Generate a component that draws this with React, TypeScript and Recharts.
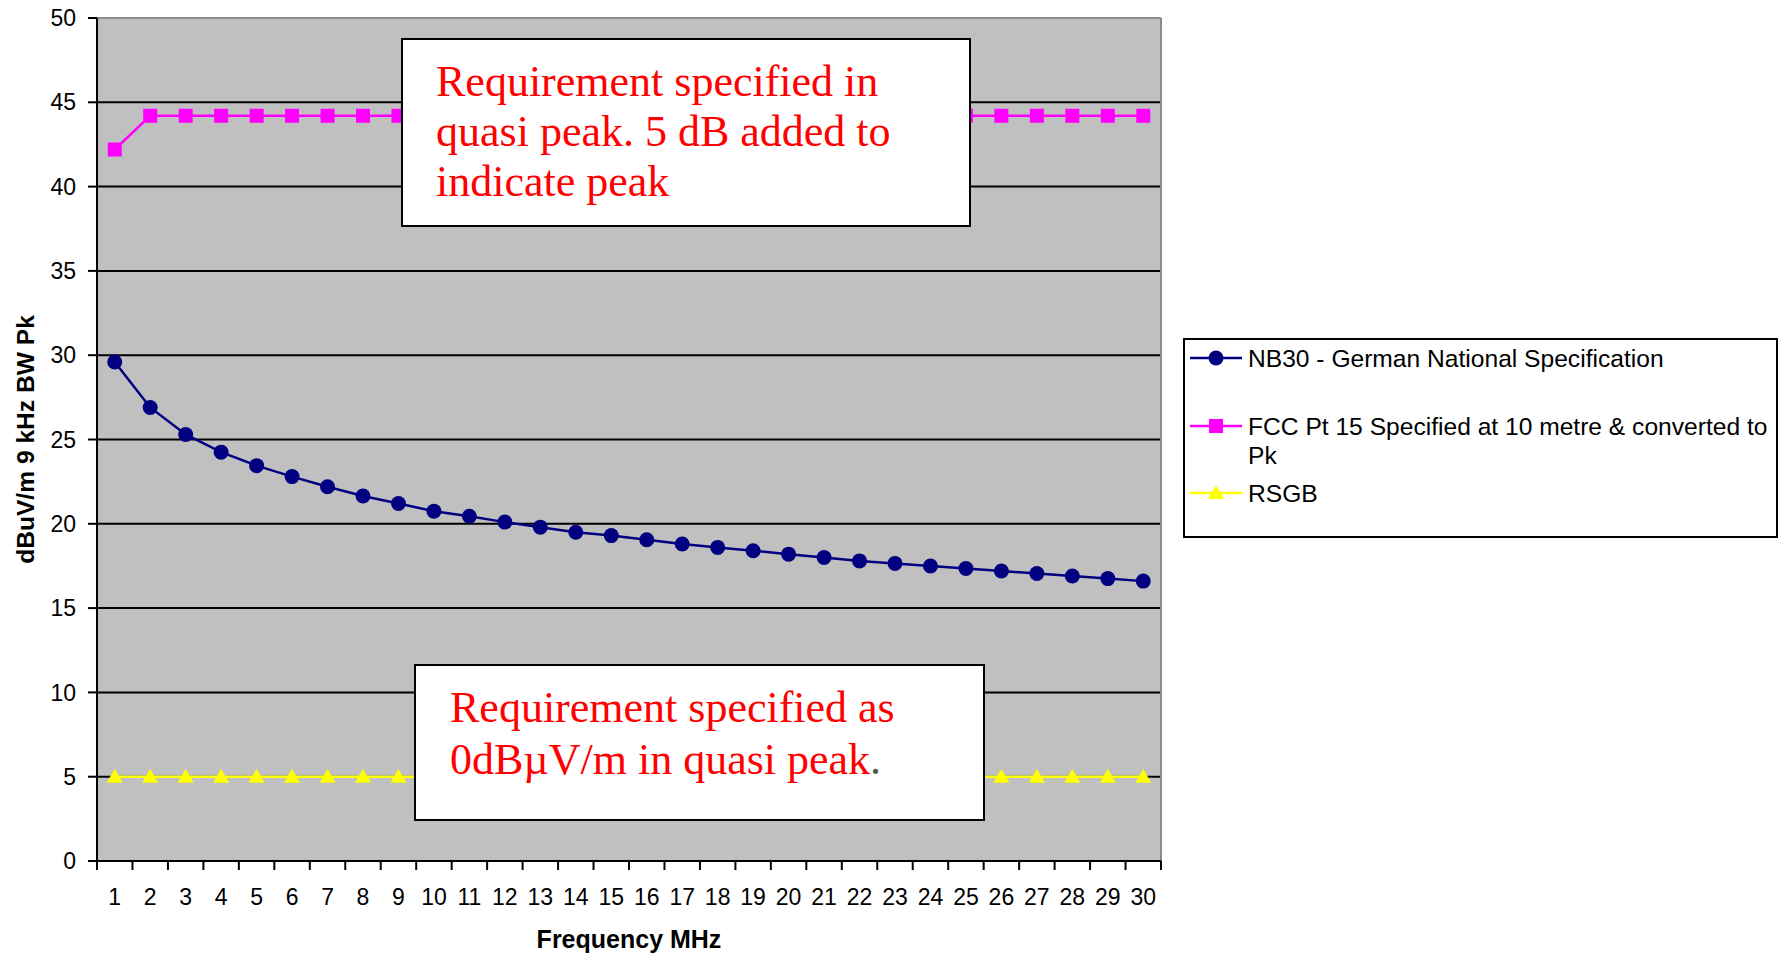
import { CartesianGrid, Legend, Line, LineChart, ReferenceLine, XAxis, YAxis } from 'recharts'

const FREQS = [1, 2, 3, 4, 5, 6, 7, 8, 9, 10, 11, 12, 13, 14, 15, 16, 17, 18, 19, 20, 21, 22, 23, 24, 25, 26, 27, 28, 29, 30]
const NB30 = [
  29.6, 26.9, 25.3, 24.25, 23.45, 22.8, 22.2, 21.65, 21.2, 20.75, 20.45, 20.1, 19.8, 19.5, 19.3,
  19.05, 18.8, 18.6, 18.4, 18.2, 18.0, 17.8, 17.65, 17.5, 17.35, 17.2, 17.05, 16.9, 16.75, 16.6,
]
const FCC = [
  42.2, 44.2, 44.2, 44.2, 44.2, 44.2, 44.2, 44.2, 44.2, 44.2, 44.2, 44.2, 44.2, 44.2, 44.2,
  44.2, 44.2, 44.2, 44.2, 44.2, 44.2, 44.2, 44.2, 44.2, 44.2, 44.2, 44.2, 44.2, 44.2, 44.2,
]
const RSGB = [5, 5, 5, 5, 5, 5, 5, 5, 5, 5, 5, 5, 5, 5, 5, 5, 5, 5, 5, 5, 5, 5, 5, 5, 5, 5, 5, 5, 5, 5]
const Y_TICKS = [0, 5, 10, 15, 20, 25, 30, 35, 40, 45, 50]

const SERIES = [
  { key: 'nb30', name: 'NB30 - German National Specification', color: '#000080', shape: 'circle' },
  { key: 'fcc', name: 'FCC Pt 15 Specified at 10 metre & converted to|Pk', color: '#FF00FF', shape: 'square' },
  { key: 'rsgb', name: 'RSGB', color: '#FFFF00', shape: 'triangle' },
]

const data = FREQS.map((f, i) => ({ f, nb30: NB30[i], fcc: FCC[i], rsgb: RSGB[i] }))
// tick marks sit between categories, labels on them
const xTicks = [...FREQS.flatMap((f) => [f - 0.5, f]), FREQS[FREQS.length - 1] + 0.5]

const SANS = 'Arial, "Liberation Sans", sans-serif'
const SERIF = '"Times New Roman", "Liberation Serif", serif'

function marker(shape: string, color: string, cx: number, cy: number, key?: any) {
  if (shape === 'square') return <rect key={key} x={cx - 7} y={cy - 7} width={14} height={14} fill={color} />
  if (shape === 'triangle')
    return <path key={key} d={`M${cx},${cy - 8} L${cx + 8},${cy + 6} L${cx - 8},${cy + 6} Z`} fill={color} />
  return <circle key={key} cx={cx} cy={cy} r={7.5} fill={color} />
}

function FreqTick({ x, y, payload }: any) {
  const v = payload.value
  if (v % 1 !== 0) return <line x1={x} x2={x} y1={y} y2={y + 9} stroke="#000" strokeWidth={2} />
  return (
    <text x={x} y={y + 44} textAnchor="middle" fontSize={23} fill="#000" fontFamily={SANS}>
      {v}
    </text>
  )
}

function LegendBox() {
  const rows = [18, 86, 153]
  return (
    <div
      style={{
        position: 'relative',
        width: 595,
        height: 200,
        boxSizing: 'border-box',
        border: '2px solid #000',
        background: '#fff',
        fontFamily: SANS,
        fontSize: 24.6,
        color: '#000',
      }}
    >
      {SERIES.map((s, i) => {
        const lines = s.name.split('|')
        return (
          <div key={s.key} style={{ position: 'absolute', left: 5, top: rows[i] - 14 }}>
            <svg width={52} height={28} style={{ position: 'absolute', left: 0, top: 0 }}>
              <line x1={0} x2={52} y1={14} y2={14} stroke={s.color} strokeWidth={2.5} />
              {marker(s.shape, s.color, 26, 14)}
            </svg>
            <div style={{ position: 'absolute', left: 58, top: 0, lineHeight: '29px', whiteSpace: 'nowrap' }}>
              {lines.map((t) => (
                <div key={t}>{t}</div>
              ))}
            </div>
          </div>
        )
      })}
    </div>
  )
}

const noteBox = {
  position: 'absolute' as const,
  boxSizing: 'border-box' as const,
  background: '#fff',
  border: '2px solid #000',
  color: '#FF0000',
  fontFamily: SERIF,
  fontSize: 44,
  whiteSpace: 'nowrap' as const,
}

export default function App() {
  return (
    <div style={{ position: 'absolute', left: 0, top: 0, width: 1781, height: 956, background: '#fff', fontFamily: SANS }}>
      <LineChart width={1781} height={956} data={data} margin={{ top: 18, right: 620, bottom: 0, left: 0 }}>
        <CartesianGrid vertical={false} stroke="#000" strokeWidth={2} fill="#C0C0C0" fillOpacity={1} />
        <XAxis
          dataKey="f"
          type="number"
          domain={[0.5, 30.5]}
          ticks={xTicks}
          interval={0}
          height={95}
          tick={<FreqTick />}
          tickLine={false}
          tickSize={0}
          tickMargin={0}
          axisLine={{ stroke: '#000', strokeWidth: 2 }}
          label={{ value: 'Frequency MHz', position: 'insideBottom', offset: 8, fontSize: 25, fontWeight: 'bold', fill: '#000' }}
        />
        <YAxis
          domain={[0, 50]}
          ticks={Y_TICKS}
          interval={0}
          width={97}
          tickSize={9}
          tickMargin={12}
          tick={{ fontSize: 23, fill: '#000' }}
          tickLine={{ stroke: '#000', strokeWidth: 2 }}
          axisLine={{ stroke: '#000', strokeWidth: 2 }}
          label={{
            content: ({ viewBox }: any) => {
              const cy = viewBox.y + viewBox.height / 2
              return (
                <text
                  x={25}
                  y={cy}
                  transform={`rotate(-90, 25, ${cy})`}
                  textAnchor="middle"
                  dominantBaseline="central"
                  fontSize={24.6}
                  fontWeight="bold"
                  fill="#000"
                >
                  dBuV/m 9 kHz BW Pk
                </text>
              )
            },
          }}
        />
        <ReferenceLine y={50} stroke="#8c8c8c" strokeWidth={2} />
        <ReferenceLine x={30.5} stroke="#8c8c8c" strokeWidth={2} />
        {SERIES.map((s) => (
          <Line
            key={s.key}
            dataKey={s.key}
            name={s.name}
            type="linear"
            stroke={s.color}
            strokeWidth={2.5}
            isAnimationActive={false}
            activeDot={false}
            dot={(p: any) => marker(s.shape, s.color, p.cx, p.cy, `${s.key}-${p.index}`)}
          />
        ))}
        <Legend
          layout="vertical"
          align="center"
          verticalAlign="middle"
          content={() => <LegendBox />}
          wrapperStyle={{ left: 1183, top: 338, width: 595, height: 200 }}
        />
      </LineChart>

      <div style={{ ...noteBox, left: 401, top: 38, width: 570, height: 189, padding: '17px 0 0 33px', lineHeight: '50px' }}>
        <div>Requirement specified in</div>
        <div>quasi peak. 5 dB added to</div>
        <div>indicate peak</div>
      </div>
      <div style={{ ...noteBox, left: 414, top: 664, width: 571, height: 157, padding: '16px 0 0 34px', lineHeight: '52px' }}>
        <div>Requirement specified as</div>
        <div>
          0dBµV/m in quasi peak<span style={{ color: '#555' }}>.</span>
        </div>
      </div>
    </div>
  )
}
